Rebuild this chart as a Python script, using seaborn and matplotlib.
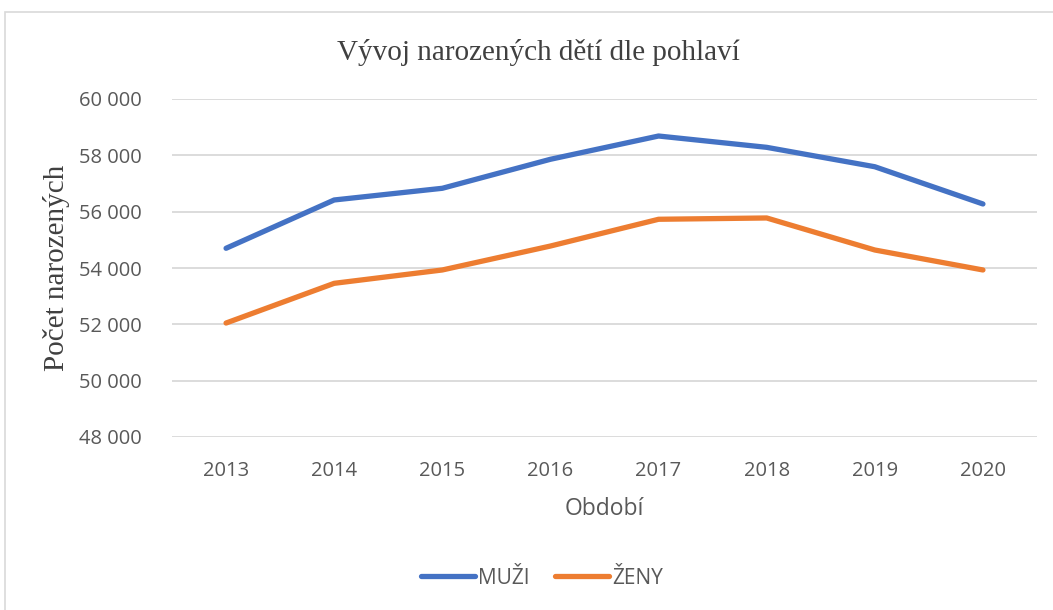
import matplotlib
matplotlib.use("Agg")
import matplotlib.pyplot as plt
import matplotlib.ticker as mticker
from matplotlib.patches import Rectangle
import seaborn as sns
import pandas as pd

years = [2013, 2014, 2015, 2016, 2017, 2018, 2019, 2020]
muzi = [54700, 56415, 56830, 57860, 58686, 58284, 57595, 56273]
zeny = [52046, 53456, 53930, 54780, 55730, 55776, 54639, 53930]
series_names = ["MUŽI", "ŽENY"]
colors = ["#4472C4", "#ED7D31"]
yticks = [48000, 50000, 52000, 54000, 56000, 58000, 60000]

df = pd.DataFrame({
    "Období": [str(y) for y in years] * 2,
    "Počet": muzi + zeny,
    "Pohlaví": [series_names[0]] * len(years) + [series_names[1]] * len(years),
})

sns.set_theme(style="white")
plt.rcParams["font.family"] = ["Open Sans", "DejaVu Sans"]

fig = plt.figure(figsize=(10.53, 6.10), dpi=100)
ax = fig.add_axes([172 / 1053, 1 - 437 / 610, (1037 - 172) / 1053, (437 - 99) / 610])

sns.lineplot(data=df, x="Období", y="Počet", hue="Pohlaví",
             palette=dict(zip(series_names, colors)), linewidth=3.8,
             sort=False, ax=ax, legend=True, solid_capstyle="round")

ax.set_ylim(48000, 60000)
ax.set_xlim(-0.5, len(years) - 0.5)
ax.set_yticks(yticks)
ax.yaxis.set_major_formatter(mticker.FuncFormatter(lambda v, p: f"{int(v):,}".replace(",", " ")))
ax.grid(axis="y", color="#D9D9D9", linewidth=1.3)
ax.set_axisbelow(True)
for s in ax.spines.values():
    s.set_visible(False)
ax.tick_params(axis="both", length=0, labelsize=14.5, colors="#595959")
ax.tick_params(axis="y", pad=22)
ax.tick_params(axis="x", pad=17)

ax.set_xlabel("Období", fontsize=16.5, color="#595959", labelpad=12)
ax.set_ylabel("Počet narozených", fontsize=21, color="#404040",
              family="Liberation Serif")
ax.yaxis.set_label_coords(-0.118, 0.5)

fig.text(538 / 1053, 1 - 52 / 610, "Vývoj narozených dětí dle pohlaví",
         ha="center", va="center", fontsize=21, color="#404040", family="Liberation Serif")

handles, labels = ax.get_legend_handles_labels()
ax.legend(handles, labels, loc="center", bbox_to_anchor=(542 / 1053, 1 - 578 / 610),
          bbox_transform=fig.transFigure, ncol=2, frameon=False, fontsize=15,
          handlelength=2.6, handletextpad=0.15, columnspacing=1.2,
          labelcolor="#595959")

fig.patches.append(Rectangle((5 / 1053, -0.05), 1.2, 1 - 12 / 610 + 0.05,
                             transform=fig.transFigure, fill=False,
                             edgecolor="#D9D9D9", linewidth=1.2))

fig.savefig("out.png", dpi=100, facecolor="white")
